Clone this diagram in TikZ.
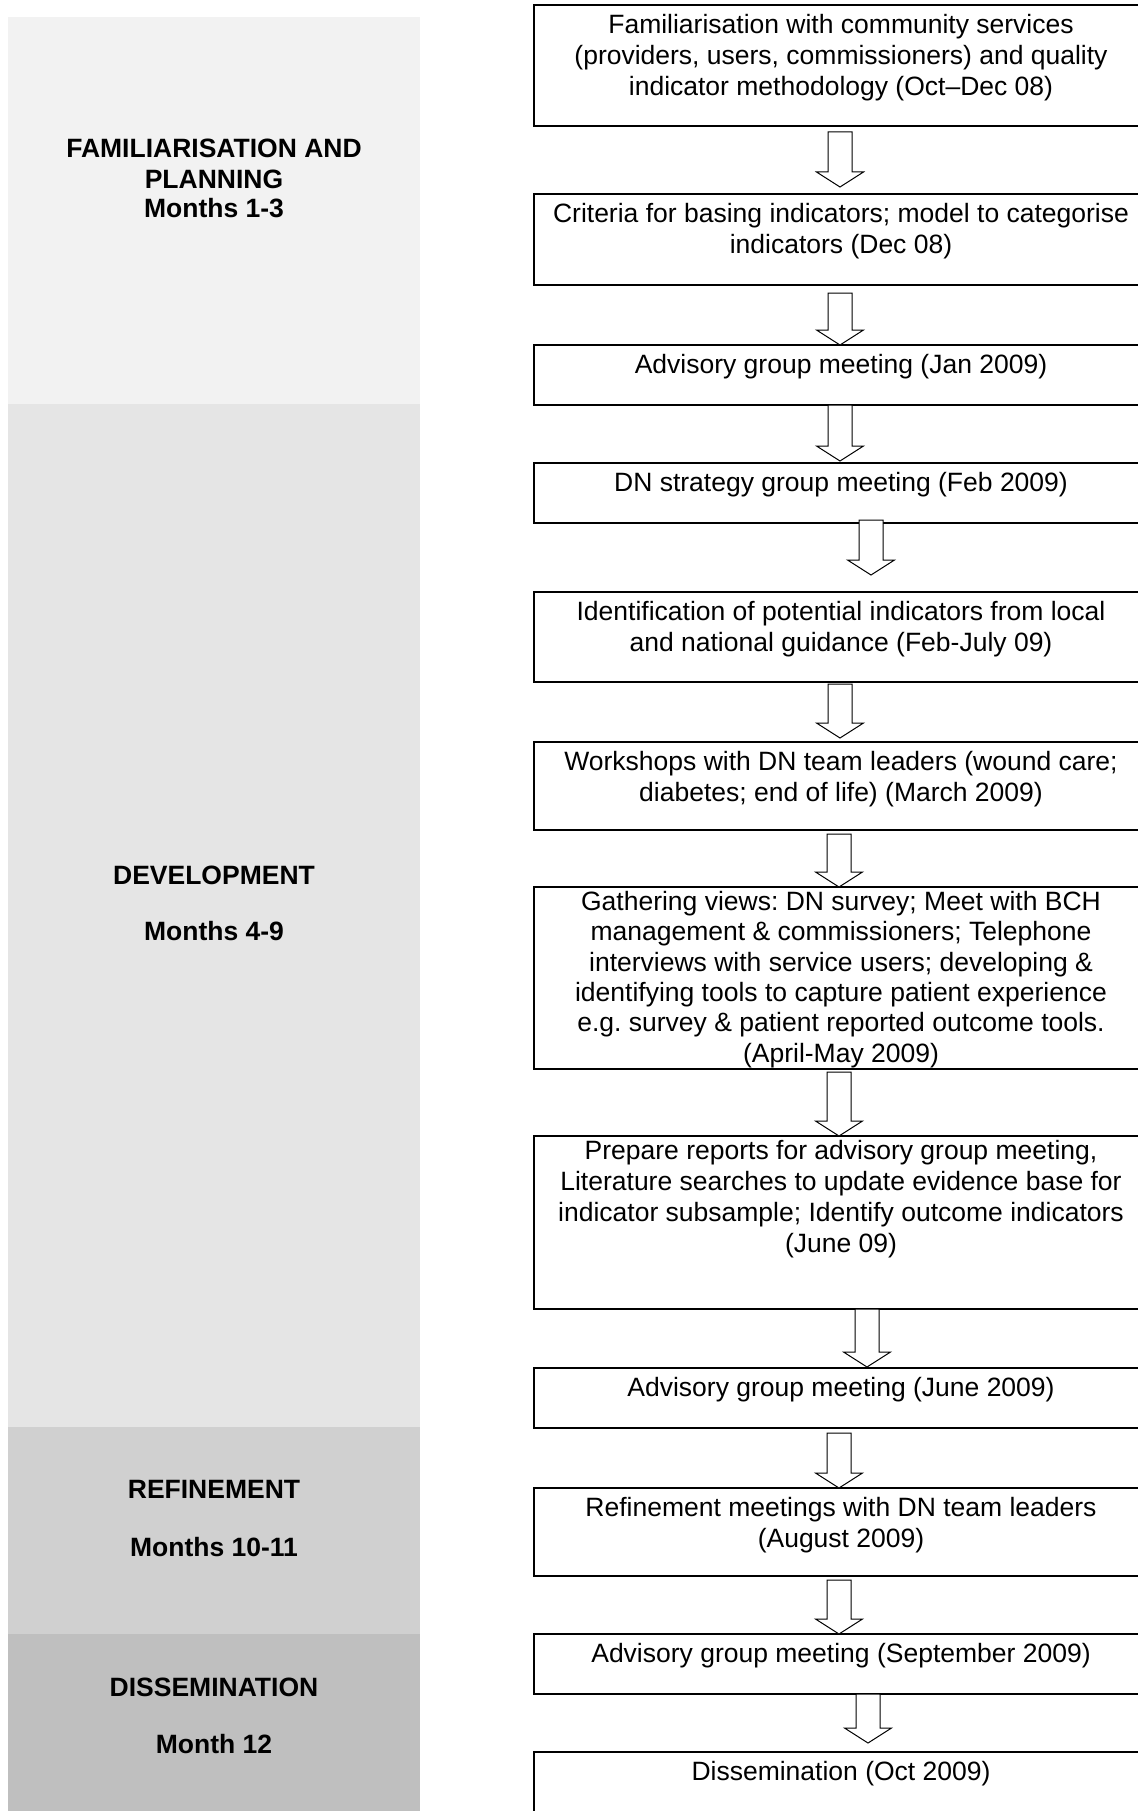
\documentclass[tikz,border=0pt]{standalone}
\usepackage{fontspec}
\setmainfont{Liberation Sans}
\usetikzlibrary{calc}
\frenchspacing

\definecolor{phaseA}{HTML}{F2F2F2}
\definecolor{phaseB}{HTML}{E5E5E5}
\definecolor{phaseC}{HTML}{D0D0D0}
\definecolor{phaseD}{HTML}{BFBFBF}

\tikzset{
  frame/.style={draw=black, line width=1.6pt, minimum width=614pt,
    inner sep=0pt, outer sep=0pt},
  steptext/.style={anchor=north, align=center, inner sep=0pt,
    font=\fontsize{26.5}{31}\selectfont},
  phaselabel/.style={anchor=north, align=center, inner sep=0pt,
    font=\fontsize{26.5}{31}\selectfont\bfseries},
  blockarrow/.style={draw=black, line width=1pt, fill=white, line join=miter},
}

% hollow block arrow from a start coordinate down to a tip coordinate
\newcommand\flowarrow[2]{%
  \draw[blockarrow] let \p1=(#1), \p2=(#2) in
    (\x1-12pt,\y1) -- (\x1+12pt,\y1) -- (\x1+12pt,\y2+15pt)
    -- (\x1+23.5pt,\y2+15pt) -- (\x1,\y2) -- (\x1-23.5pt,\y2+15pt)
    -- (\x1-12pt,\y2+15pt) -- cycle;}

\newcommand\strt{\rule{0pt}{22pt}}

\begin{document}
\frenchspacing
\begin{tikzpicture}[x=1pt,y=-1pt]
\useasboundingbox (0,0) rectangle (1137,1811);
\fill[white] (0,0) rectangle (1137,1811);

% project phases
\fill[phaseA] (8,17) rectangle (420,404);
\fill[phaseB] (8,404) rectangle (420,1427);
\fill[phaseC] (8,1427) rectangle (420,1634);
\fill[phaseD] (8,1634) rectangle (420,1811);

\node[phaselabel] (p1) at (214,135.5)
  {\strt FAMILIARISATION AND\\PLANNING\\[-2pt]Months 1-3};
\node[phaselabel] (p2) at (214,862.5) {\strt DEVELOPMENT\\[25pt]Months 4-9};
\node[phaselabel] (p3) at (214,1476.5) {\strt REFINEMENT\\[27pt]Months 10-11};
\node[phaselabel] (p4) at (214,1674.5) {\strt DISSEMINATION\\[26pt]Month 12};

% step frames
\node[frame, minimum height=121pt] (b1) at (841,65.5) {};
\node[frame, minimum height=91pt] (b2) at (841,239.5) {};
\node[frame, minimum height=60pt] (b3) at (841,375) {};
\node[frame, minimum height=60pt] (b4) at (841,493) {};
\node[frame, minimum height=90pt] (b5) at (841,637) {};
\node[frame, minimum height=88pt] (b6) at (841,786) {};
\node[frame, minimum height=182pt] (b7) at (841,978) {};
\node[frame, minimum height=173pt] (b8) at (841,1222.5) {};
\node[frame, minimum height=60pt] (b9) at (841,1398) {};
\node[frame, minimum height=88pt] (b10) at (841,1532) {};
\node[frame, minimum height=60pt] (b11) at (841,1664) {};
\node[frame, minimum height=60pt] (b12) at (841,1782) {};

% step texts
\node[steptext] (t1) at ([yshift=-6pt]b1.north)
  {\strt Familiarisation with community services\\(providers, users, commissioners) and quality\\indicator methodology (Oct–Dec 08)};
\node[steptext] (t2) at ([yshift=-6pt]b2.north)
  {\strt Criteria for basing indicators; model to categorise\\indicators (Dec 08)};
\node[steptext] (t3) at ([yshift=-6pt]b3.north)
  {\strt Advisory group meeting (Jan 2009)};
\node[steptext] (t4) at ([yshift=-6pt]b4.north)
  {\strt DN strategy group meeting (Feb 2009)};
\node[steptext] (t5) at ([yshift=-6pt]b5.north)
  {\strt Identification of potential indicators from local\\and national guidance (Feb-July 09)};
\node[steptext] (t6) at ([yshift=-6pt]b6.north)
  {\strt Workshops with DN team leaders (wound care;\\diabetes; end of life) (March 2009)};
\node[steptext, font=\fontsize{26.5}{30.4}\selectfont] (t7) at ([yshift=-1pt]b7.north)
  {\strt Gathering views: DN survey; Meet with BCH\\management \& commissioners; Telephone\\interviews with service users; developing \&\\identifying tools to capture patient experience\\e.g. survey \& patient reported outcome tools.\\(April-May 2009)};
\node[steptext] (t8) at ([yshift=-1pt]b8.north)
  {\strt Prepare reports for advisory group meeting,\\Literature searches to update evidence base for\\indicator subsample; Identify outcome indicators\\(June 09)};
\node[steptext] (t9) at ([yshift=-6pt]b9.north)
  {\strt Advisory group meeting (June 2009)};
\node[steptext] (t10) at ([yshift=-6pt]b10.north)
  {\strt Refinement meetings with DN team leaders\\(August 2009)};
\node[steptext] (t11) at ([yshift=-6pt]b11.north)
  {\strt Advisory group meeting (September 2009)};
\node[steptext] (t12) at ([yshift=-6pt]b12.north)
  {\strt Dissemination (Oct 2009)};

% arrow ends
\coordinate (a1s) at (840,132);  \coordinate (a1e) at (840,187);
\coordinate (a2s) at (840,293);  \coordinate (a2e) at (840,345);
\coordinate (a3s) at (840,405);  \coordinate (a3e) at (840,461);
\coordinate (a4s) at (871,520);  \coordinate (a4e) at (871,575);
\coordinate (a5s) at (840,684);  \coordinate (a5e) at (840,738);
\coordinate (a6s) at (839,834);  \coordinate (a6e) at (839,887);
\coordinate (a7s) at (839,1072); \coordinate (a7e) at (839,1136);
\coordinate (a8s) at (867,1309); \coordinate (a8e) at (867,1367);
\coordinate (a9s) at (839,1433); \coordinate (a9e) at (839,1488);
\coordinate (a10s) at (839,1580); \coordinate (a10e) at (839,1634);
\coordinate (a11s) at (868,1694); \coordinate (a11e) at (868,1743);

\foreach \i in {1,...,11} {\flowarrow{a\i s}{a\i e}}
\end{tikzpicture}
\end{document}
